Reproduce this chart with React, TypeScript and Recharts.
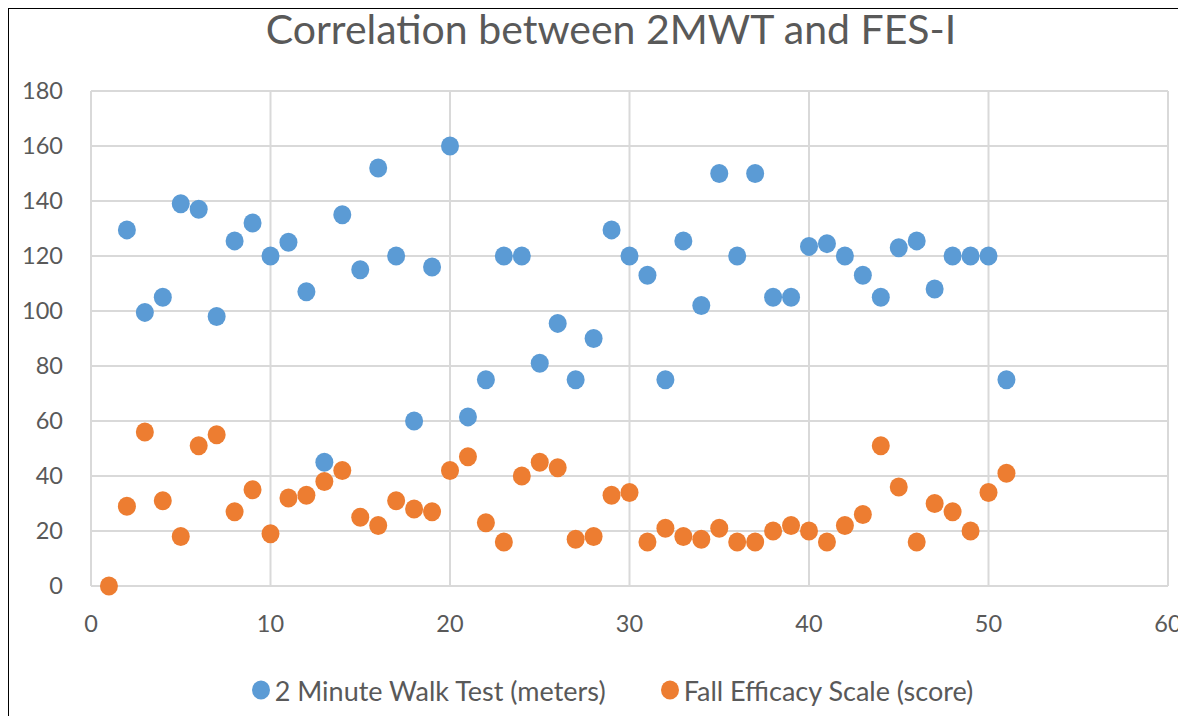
import React from "react";
import { ScatterChart, Scatter, XAxis, YAxis, CartesianGrid, Legend } from "recharts";

const subjects = [1,2,3,4,5,6,7,8,9,10,11,12,13,14,15,16,17,18,19,20,21,22,23,24,25,26,27,28,29,30,31,32,33,34,35,36,37,38,39,40,41,42,43,44,45,46,47,48,49,50,51];
const walkTest: (number | null)[] = [null,129.5,99.5,105,139,137,98,125.5,132,120,125,107,45,135,115,152,120,60,116,160,61.5,75,120,120,81,95.5,75,90,129.5,120,113,75,125.5,102,150,120,150,105,105,123.5,124.5,120,113,105,123,125.5,108,120,120,120,75];
const fallEfficacy = [0,29,56,31,18,51,55,27,35,19,32,33,38,42,25,22,31,28,27,42,47,23,16,40,45,43,17,18,33,34,16,21,18,17,21,16,16,20,22,20,16,22,26,51,36,16,30,27,20,34,41];
const xTicks = [0,10,20,30,40,50,60];
const yTicks = [0,20,40,60,80,100,120,140,160,180];
const titleText = "Correlation between 2MWT and FES-I";
const seriesNames = ["2 Minute Walk Test (meters)", "Fall Efficacy Scale (score)"];
const colors = ["#5B9BD5", "#ED7D31"];

const walkData = subjects
  .map((s, i) => ({ x: s, y: walkTest[i] }))
  .filter((d) => d.y !== null);
const fesData = subjects.map((s, i) => ({ x: s, y: fallEfficacy[i] }));

const FONT = "Lato, 'Open Sans', sans-serif";
const TEXT = "#595959";

const Dot = (props: any) => {
  const { cx, cy, fill } = props;
  if (cx == null || cy == null) return null;
  return <ellipse cx={cx} cy={cy} rx={9} ry={9.5} fill={fill} />;
};

const LegendContent = () => (
  <div style={{ display: "flex", justifyContent: "center", alignItems: "center", fontFamily: FONT, fontSize: 27, color: TEXT, height: 30, paddingLeft: 34 }}>
    {seriesNames.map((n, i) => (
      <div key={n} style={{ display: "flex", alignItems: "center", marginLeft: i === 0 ? 0 : 54 }}>
        <svg width={20} height={22} style={{ marginRight: 4 }}>
          <ellipse cx={10} cy={11} rx={9} ry={9.5} fill={colors[i]} />
        </svg>
        <span>{n}</span>
      </div>
    ))}
  </div>
);

export default function App() {
  return (
    <div style={{ position: "relative", width: 1173, height: 720, border: "1px solid #000", background: "#fff" }}>
      <div style={{ position: "absolute", top: -5, left: 0, width: 1204, textAlign: "center", fontFamily: FONT, fontSize: 41, color: TEXT, lineHeight: "50px", whiteSpace: "nowrap" }}>
        {titleText}
      </div>
      <ScatterChart width={1172} height={705} margin={{ top: 82, right: 13, left: 0, bottom: 68 }}>
        <CartesianGrid stroke="#D9D9D9" strokeWidth={2} horizontalValues={yTicks} verticalValues={xTicks} />
        <XAxis
          type="number"
          dataKey="x"
          domain={[0, 60]}
          ticks={xTicks}
          interval={0}
          height={60}
          tickSize={0}
          tickMargin={29}
          tickLine={false}
          axisLine={{ stroke: "#D9D9D9", strokeWidth: 2 }}
          tick={{ fill: TEXT, fontSize: 23.5, fontFamily: FONT }}
        />
        <YAxis
          type="number"
          dataKey="y"
          domain={[0, 180]}
          ticks={yTicks}
          interval={0}
          width={82}
          tickSize={0}
          tickMargin={28}
          tickLine={false}
          axisLine={{ stroke: "#D9D9D9", strokeWidth: 2 }}
          tick={{ fill: TEXT, fontSize: 23.5, fontFamily: FONT }}
        />
        <Legend
          layout="horizontal"
          verticalAlign="middle"
          align="center"
          wrapperStyle={{ top: 666, left: 0, width: 1172 }}
          content={<LegendContent />}
        />
        <Scatter name={seriesNames[0]} data={walkData} fill={colors[0]} shape={<Dot />} isAnimationActive={false} />
        <Scatter name={seriesNames[1]} data={fesData} fill={colors[1]} shape={<Dot />} isAnimationActive={false} />
      </ScatterChart>
    </div>
  );
}
